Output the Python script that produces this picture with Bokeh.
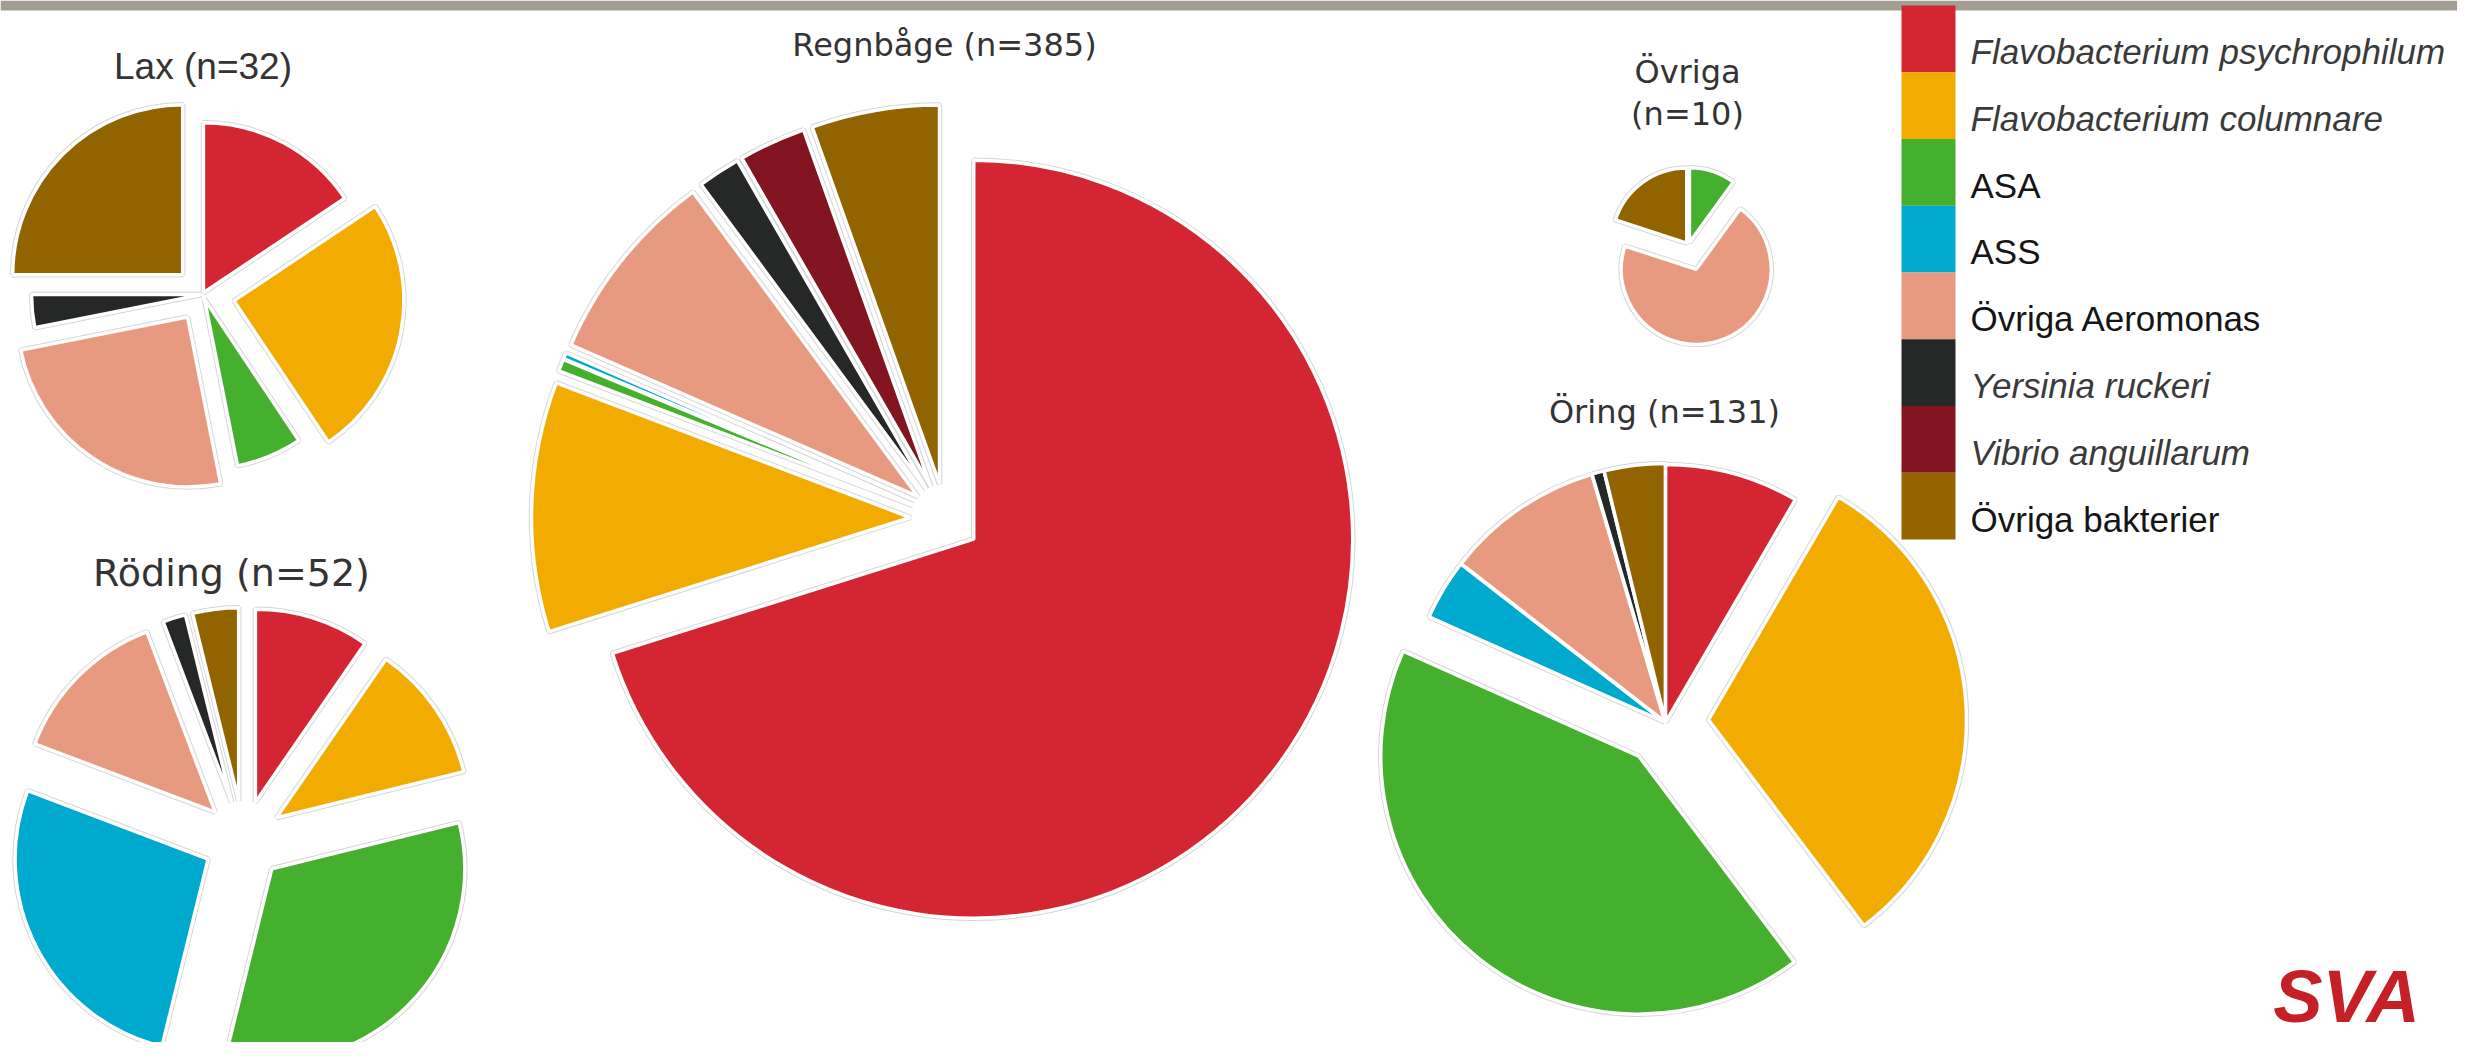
import numpy as np
from bokeh.plotting import figure
from bokeh.models import Range1d, ColumnDataSource
from bokeh.core.properties import value
from bokeh.embed import file_html
from bokeh.resources import INLINE

# ---------------- data ----------------
categories = ["Flavobacterium psychrophilum", "Flavobacterium columnare", "ASA", "ASS",
              "Övriga Aeromonas", "Yersinia ruckeri", "Vibrio anguillarum", "Övriga bakterier"]
italic_names = [True, True, False, False, False, True, True, False]
colors = ["#d42632", "#f2ab00", "#45b02d", "#00a9ce", "#e89a80", "#262828", "#82151f", "#926400"]

lax = [5, 8, 2, 0, 8, 1, 0, 8]
regnbage = [270, 41, 2, 1, 32, 7, 11, 21]
roding = [5, 6, 17, 14, 7, 1, 0, 2]
oring = [11, 41, 55, 5, 13, 1, 0, 5]
ovriga = [0, 0, 1, 0, 7, 0, 0, 2]

# ---------------- layout (image pixels, y downward) ----------------
H = 1058
FW, FH = 2457, 1042
TEXT_SHIFT = 0.38  # em correction for the text baseline placement

pies = [
    dict(name="Lax", counts=lax, cx=202, cy=294, r=170,
         explode=[2, 32, 5, 0, 27, 1, 0, 28],
         tx=202.5, ty=[80], font="Liberation Sans", size=37, two_lines=False),
    dict(name="Regnbåge", counts=regnbage, cx=945, cy=518, r=379,
         explode=[35] * 8,
         tx=944, ty=[57], font="DejaVu Sans", size=32, two_lines=False),
    dict(name="Röding", counts=roding, cx=243, cy=840, r=193,
         explode=[40] * 8,
         tx=231, ty=[587], font="DejaVu Sans", size=38, two_lines=False),
    dict(name="Öring", counts=oring, cx=1665, cy=722, r=258,
         explode=[0, 43, 43, 1, 1, 1, 0, 1],
         tx=1664, ty=[424], font="DejaVu Sans", size=32, two_lines=False),
    dict(name="Övriga", counts=ovriga, cx=1688, cy=245, r=75,
         explode=[0, 0, 3, 0, 25, 0, 0, 3],
         tx=1687, ty=[84, 126], font="DejaVu Sans", size=32, two_lines=True),
]

p = figure(width=FW, height=FH, output_backend="svg", toolbar_location=None,
           x_range=Range1d(0, FW), y_range=Range1d(H - FH, H),
           x_axis_location=None, y_axis_location=None, min_border=0)
p.grid.visible = False
p.outline_line_color = None
p.background_fill_color = "white"
p.border_fill_color = "white"

def Y(y):
    return H - y

def TY(baseline, size):
    return Y(baseline - TEXT_SHIFT * size)

# grey band at the top
p.quad(left=[0], right=[FW], top=[Y(0)], bottom=[Y(10)], fill_color="#a29f92", line_color=None)

for pie in pies:
    vals = np.array(pie["counts"], float)
    ang = vals / vals.sum() * 2 * np.pi
    end = np.cumsum(ang)
    start = end - ang
    mid = (start + end) / 2
    ex = np.array(pie["explode"], float)
    keep = vals > 0
    src = ColumnDataSource(dict(
        x=(pie["cx"] + ex * np.sin(mid))[keep],
        y=(Y(pie["cy"]) + ex * np.cos(mid))[keep],
        s=(np.pi / 2 - start)[keep],
        e=(np.pi / 2 - end)[keep],
        c=np.array(colors)[keep],
    ))
    p.wedge(x="x", y="y", radius=pie["r"], start_angle="s", end_angle="e", direction="clock",
            source=src, fill_color="c", line_color="#d6d6d6", line_width=5.5)
    p.wedge(x="x", y="y", radius=pie["r"], start_angle="s", end_angle="e", direction="clock",
            source=src, fill_color="c", line_color="white", line_width=3.5)
    n = int(vals.sum())
    if pie["two_lines"]:
        lines = [pie["name"], f"(n={n})"]
    else:
        lines = [f"{pie['name']} (n={n})"]
    p.text(x=[pie["tx"]] * len(lines), y=[TY(t, pie["size"]) for t in pie["ty"]], text=lines,
           text_align="center", text_baseline="alphabetic",
           text_font=value(pie["font"]), text_font_size=value(f"{pie['size']}px"),
           text_color="#333333")

# ---------------- legend ----------------
sw_left, sw_right, sw_top, sw_h = 1901, 1955, 5, 66.75
idx = np.arange(len(categories))
p.quad(left=[sw_left] * len(idx), right=[sw_right] * len(idx),
       top=[Y(sw_top + i * sw_h) for i in idx], bottom=[Y(sw_top + (i + 1) * sw_h) for i in idx],
       fill_color=colors, line_color=None)
for i, name in enumerate(categories):
    p.text(x=[1970], y=[TY(64 + i * 66.9, 35)], text=[name], text_align="left", text_baseline="alphabetic",
           text_font=value("Liberation Sans"), text_font_size=value("35px"),
           text_font_style="italic" if italic_names[i] else "normal",
           text_color="#3a3a3a" if italic_names[i] else "#151515")

# ---------------- logo ----------------
p.text(x=[2346], y=[TY(1024, 74)], text=["SVA"], text_align="center", text_baseline="alphabetic",
       text_font=value("Liberation Sans"), text_font_size=value("74px"),
       text_font_style="bold italic", text_color="#c42026")

open("out.html", "w").write(file_html(p, INLINE))
